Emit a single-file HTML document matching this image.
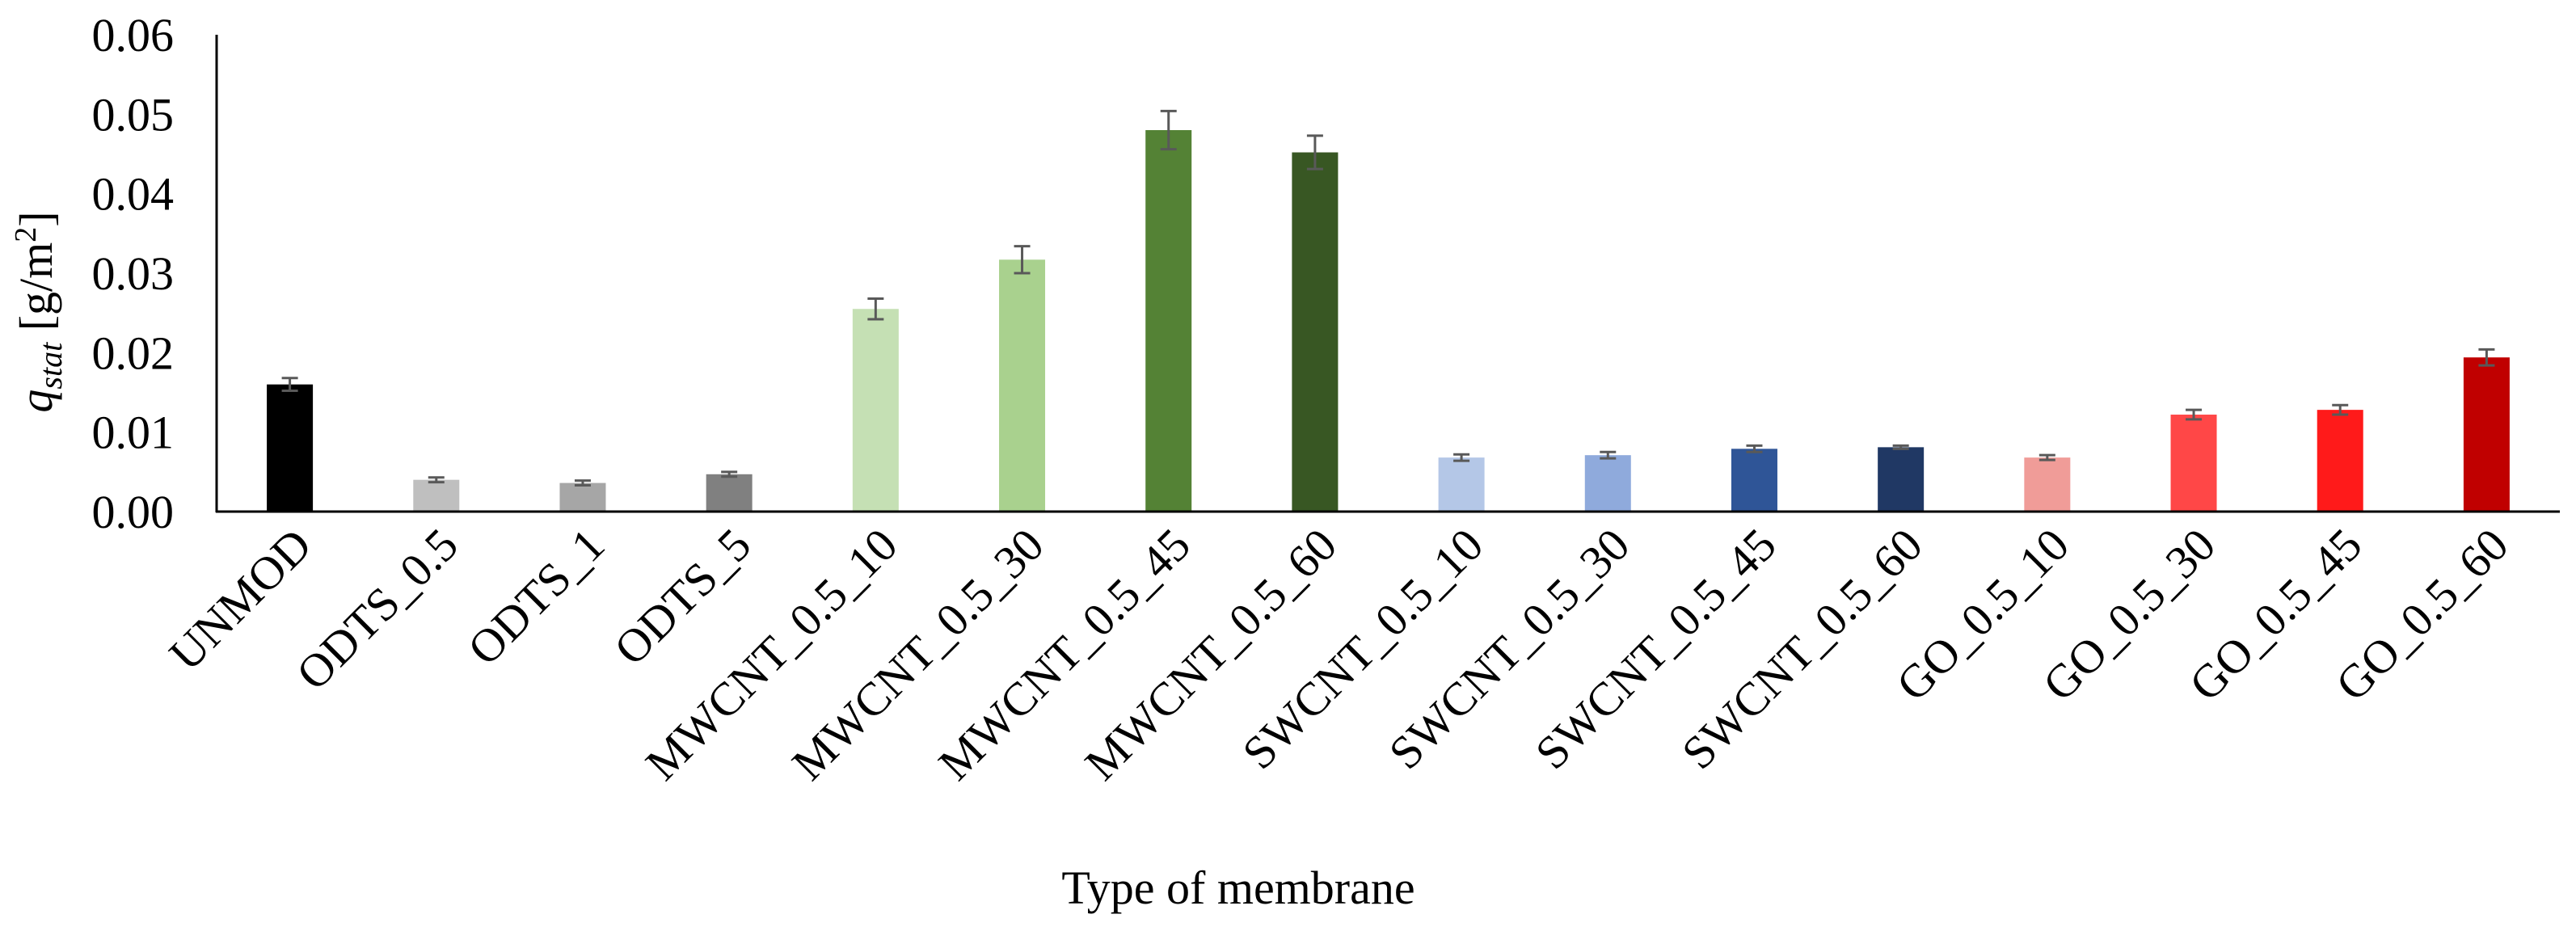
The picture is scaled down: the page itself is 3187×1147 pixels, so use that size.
<!DOCTYPE html>
<html><head><meta charset="utf-8"><style>
html,body{margin:0;padding:0;background:#fff;}
svg{display:block;font-family:"Liberation Serif","Times New Roman",serif;}
</style></head><body>
<svg id="chart" width="3187" height="1147" viewBox="0 0 3187 1147" xmlns="http://www.w3.org/2000/svg">
<g id="bars"></g>
<g id="errs"></g>
<g id="yticks"></g>
<g id="xlabels"></g>
<line x1="268" y1="43" x2="268" y2="634" stroke="#000" stroke-width="3"/>
<line x1="267" y1="633" x2="3167" y2="633" stroke="#000" stroke-width="3"/>
<text transform="translate(64,386) rotate(-90)" text-anchor="middle" font-size="58"><tspan font-style="italic">q</tspan><tspan font-style="italic" font-size="40" dy="12">stat</tspan><tspan dy="-12"> [g/m</tspan><tspan font-size="38" dy="-20">2</tspan><tspan dy="20">]</tspan></text>
<text x="1532" y="1118" text-anchor="middle" font-size="58">Type of membrane</text>
</svg>
<script>
const categories = ["UNMOD","ODTS_0.5","ODTS_1","ODTS_5","MWCNT_0.5_10","MWCNT_0.5_30","MWCNT_0.5_45","MWCNT_0.5_60","SWCNT_0.5_10","SWCNT_0.5_30","SWCNT_0.5_45","SWCNT_0.5_60","GO_0.5_10","GO_0.5_30","GO_0.5_45","GO_0.5_60"];
const values = [0.0160,0.0040,0.0036,0.0047,0.0255,0.0317,0.0480,0.0452,0.0068,0.0071,0.0079,0.0081,0.0068,0.0122,0.0128,0.0194];
const errors = [0.0008,0.0003,0.0003,0.0003,0.0013,0.0017,0.0024,0.0021,0.0004,0.0004,0.0004,0.0002,0.0003,0.0006,0.0006,0.0010];
const colors = ["#000000","#bfbfbf","#a6a6a6","#808080","#c5e0b4","#a9d18e","#548235","#385723","#b4c7e7","#8faadc","#2f5597","#203864","#f09c98","#ff4747","#ff1a1a","#c00000"];
const yTicks = [0,0.01,0.02,0.03,0.04,0.05,0.06];
const yTickLabels = ["0.00","0.01","0.02","0.03","0.04","0.05","0.06"];

const NS="http://www.w3.org/2000/svg";
const X0=268, X1=3167, Y0=633, YTOP=43, YMAX=0.06;
const band=(X1-X0)/categories.length, barW=57;
function xc(i){return X0+band*(i+0.5);}
function y(v){return Y0-(v/YMAX)*(Y0-YTOP);}
function mk(tag,attrs,parent){const e=document.createElementNS(NS,tag);for(const k in attrs)e.setAttribute(k,attrs[k]);parent.appendChild(e);return e;}

const gb=document.getElementById('bars'), ge=document.getElementById('errs'), gy=document.getElementById('yticks'), gx=document.getElementById('xlabels');
categories.forEach((c,i)=>{
  const r=mk('rect',{x:xc(i)-barW/2,y:y(values[i]),width:barW,height:Y0-y(values[i]),fill:colors[i]},gb);
  
  
  const g=mk('g',{stroke:'#595959','stroke-width':3},ge);
  
  
  const hi=y(values[i]+errors[i]), lo=y(values[i]-errors[i]);
  mk('line',{x1:xc(i),x2:xc(i),y1:hi,y2:lo},g);
  mk('line',{x1:xc(i)-10,x2:xc(i)+10,y1:hi,y2:hi},g);
  mk('line',{x1:xc(i)-10,x2:xc(i)+10,y1:lo,y2:lo},g);
  const px=xc(i)+30, py=678;
  const t=mk('text',{x:px,y:py,'text-anchor':'end','font-size':58,transform:`rotate(-45 ${px} ${py})`},gx);
  t.textContent=c;
  
  
});
yTicks.forEach((v,i)=>{
  const t=mk('text',{x:215,y:y(v)+20,'text-anchor':'end','font-size':58},gy);
  t.textContent=yTickLabels[i];
  
  
});
</script>
</body></html>
